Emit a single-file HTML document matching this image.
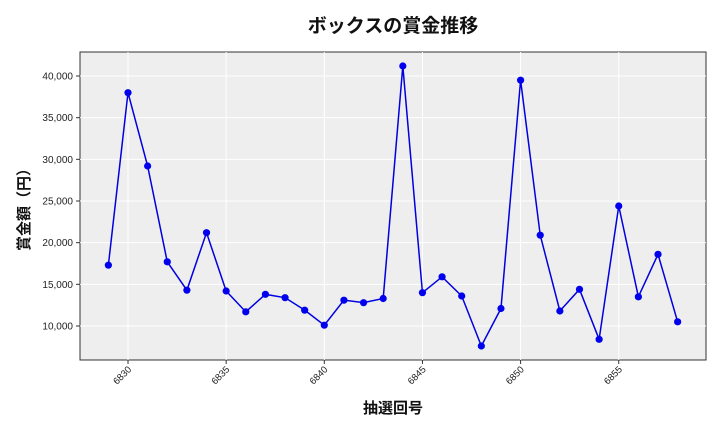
<!DOCTYPE html>
<html><head><meta charset="utf-8"><style>body{margin:0;background:#fff}svg{display:block}</style></head>
<body>
<svg id="s" width="720" height="432" xmlns="http://www.w3.org/2000/svg" font-family="'Liberation Sans','Noto Sans CJK JP',sans-serif">
<rect x="80" y="52" width="626" height="308" fill="#eeeeee" stroke="#333" stroke-width="1"/>
<g id="g"></g>
<text x="393" y="32" text-anchor="middle" font-size="19" font-weight="bold" fill="#111">ボックスの賞金推移</text>
<text x="393" y="413" text-anchor="middle" font-size="15" font-weight="bold" fill="#111">抽選回号</text>
<text transform="translate(29,206) rotate(-90)" text-anchor="middle" font-size="15" font-weight="bold" fill="#111">賞金額（円）</text>
</svg>
<script>
var d=[17300,38000,29200,17700,14300,21200,14200,11700,13800,13400,11900,10100,13100,12800,13300,41200,14000,15900,13600,7600,12100,39500,20900,11800,14400,8400,24400,13500,18600,10500];
function X(n){return 128+19.63*(n-6830)}function Y(v){return 326-(v-10000)*250/30000}
var h='';
for(var v=10000;v<=40000;v+=5000){var y=Y(v);h+='<line x1="80" x2="706" y1="'+y+'" y2="'+y+'" stroke="#fff" stroke-width="1"/><line x1="76" x2="80" y1="'+y+'" y2="'+y+'" stroke="#333"/><text x="73" y="'+(y+3.5)+'" text-anchor="end" font-size="10" fill="#222">'+v.toLocaleString('en-US')+'</text>';}
for(var n=6830;n<=6855;n+=5){var x=X(n);h+='<line y1="52" y2="360" x1="'+x+'" x2="'+x+'" stroke="#fff"/><line y1="360" y2="364" x1="'+x+'" x2="'+x+'" stroke="#333"/><text transform="translate('+(x+4)+',370) rotate(-45)" text-anchor="end" font-size="9.5" fill="#222">'+n+'</text>';}
var p=d.map(function(v,i){return X(6829+i)+','+Y(v)}).join(' ');
h+='<polyline points="'+p+'" fill="none" stroke="#0000e0" stroke-width="1.5"/>';
d.forEach(function(v,i){h+='<circle cx="'+X(6829+i)+'" cy="'+Y(v)+'" r="3.6" fill="#0000ee"/>'});
document.getElementById('g').innerHTML=h;
</script>
</body></html>
